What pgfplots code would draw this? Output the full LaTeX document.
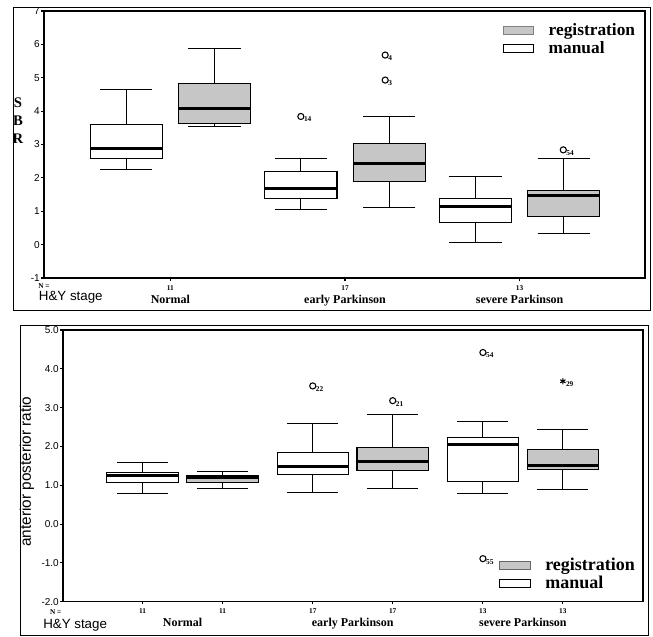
\documentclass[border=0pt]{standalone}
\usepackage{fontspec}
\setmainfont{Liberation Sans}
\newfontfamily\tnr{Liberation Serif}
\usepackage{pgfplots}
\pgfplotsset{compat=1.18}
\usepgfplotslibrary{statistics}

\newcommand{\cat}[1]{{\tnr\bfseries\fontsize{9}{10}\selectfont #1}}
\pgfplotsset{
  common/.style={
    scale only axis,
    clip mode=individual,
    axis line style={black, line width=0.8pt},
    tick align=outside,
    tick pos=left,
    major tick length=2pt,
    tick style={black, line width=0.8pt},
    /pgf/number format/assume math mode=true,
    yticklabel style={font=\fontsize{7.5}{8}\selectfont, inner sep=1pt},
    xticklabel style={font=\tnr\bfseries\fontsize{5.5}{6}\selectfont},
    extra x tick style={major tick length=0pt, xticklabel style={yshift=-9pt}},
    boxplot/draw direction=y,
    boxplot/every median/.style={line width=2.2pt},
    boxplot/every whisker/.style={line width=0.7pt},
    boxplot/every box/.style={line width=0.8pt},
    legend image code/.code={\draw[#1, line width=0.6pt] (0pt,-3pt) rectangle (23pt,3pt); \path (32pt,0pt);},
  },
  man/.style={draw=black, fill=white, solid, forget plot},
  reg/.style={draw=black, fill=gray!45, solid, forget plot},
  outl/.style={only marks, mark=o, mark size=2.3pt, black, mark options={line width=0.8pt},
    nodes near coords, point meta=explicit symbolic,
    nodes near coords style={anchor=west, font=\tnr\bfseries\fontsize{5.5}{6}\selectfont, inner sep=0.5pt, xshift=1.5pt, yshift=-2.3pt}, forget plot},
}

\begin{document}
\begin{tikzpicture}
\path (0pt,0pt) rectangle (489.75pt,-477pt);
\draw[line width=0.5pt] (9.75pt,-5.25pt) rectangle (487.5pt,-232.5pt);
\draw[line width=0.5pt] (15pt,-243.75pt) rectangle (486pt,-476.6pt);

% ---------------- top panel: SBR ----------------
\begin{axis}[common,
  at={(33pt,-208.5pt)}, anchor=south west,
  width=450.75pt, height=200.25pt,
  xmin=0.276, xmax=3.718, ymin=-1, ymax=7,
  ytick={-1,0,1,2,3,4,5,6,7},
  xtick={1,2,3}, xticklabels={11,17,13},
  extra x ticks={1,2,3},
  extra x tick labels={\cat{Normal},\cat{early Parkinson},\cat{severe Parkinson}},
  legend style={draw=none, fill=none, at={(0.995,0.975)}, anchor=north east,
    font=\tnr\bfseries\fontsize{13}{15}\selectfont, cells={anchor=west}, row sep=-1pt},
]
\addlegendimage{draw=black!50, fill=gray!45}
\addlegendentry{registration}
\addlegendimage{draw=black, fill=white}
\addlegendentry{manual}
% Normal
\addplot[man, boxplot prepared={draw position=0.747, lower whisker=2.26, lower quartile=2.58, median=2.87, upper quartile=3.59, upper whisker=4.65, box extend=0.414, whisker extend=0.30}] coordinates {};
\addplot[reg, boxplot prepared={draw position=1.253, lower whisker=3.55, lower quartile=3.64, median=4.09, upper quartile=4.83, upper whisker=5.89, box extend=0.414, whisker extend=0.30}] coordinates {};
% early
\addplot[man, boxplot prepared={draw position=1.747, lower whisker=1.05, lower quartile=1.39, median=1.69, upper quartile=2.19, upper whisker=2.59, box extend=0.414, whisker extend=0.30}] coordinates {};
\addplot[reg, boxplot prepared={draw position=2.253, lower whisker=1.12, lower quartile=1.89, median=2.42, upper quartile=3.04, upper whisker=3.83, box extend=0.414, whisker extend=0.30}] coordinates {};
% severe
\addplot[man, boxplot prepared={draw position=2.747, lower whisker=0.05, lower quartile=0.67, median=1.13, upper quartile=1.37, upper whisker=2.04, box extend=0.414, whisker extend=0.30}] coordinates {};
\addplot[reg, boxplot prepared={draw position=3.253, lower whisker=0.32, lower quartile=0.85, median=1.47, upper quartile=1.62, upper whisker=2.59, box extend=0.414, whisker extend=0.30}] coordinates {};
% outliers
\addplot[outl] table[meta=label] {
x y label
1.747 3.84 14
2.23 5.68 4
2.23 4.93 3
3.25 2.84 54
};
\node[anchor=north, font=\tnr\bfseries\fontsize{5.5}{6}\selectfont, inner sep=0pt] at (rel axis cs:0,0) [yshift=-4pt] {N =};
\node[anchor=west, font=\fontsize{10}{11}\selectfont, inner sep=0pt] at (rel axis cs:0,0) [xshift=-4pt, yshift=-14.3pt] {H\&Y stage};
\node[align=center, font=\tnr\bfseries\fontsize{11}{13.5}\selectfont, inner sep=0pt] at (rel axis cs:0,0.59) [xshift=-19.5pt] {S\\B\\R};
\end{axis}

% ---------------- bottom panel: AP ratio ----------------
\begin{axis}[common,
  at={(47.25pt,-451.3pt)}, anchor=south west,
  width=435pt, height=203.8pt,
  xmin=0.297, xmax=3.706, ymin=-2, ymax=5,
  ytick={-2,-1,0,1,2,3,4,5},
  yticklabel style={/pgf/number format/.cd, fixed, fixed zerofill, precision=1},
  xtick={0.765,1.235,1.765,2.235,2.765,3.235}, xticklabels={11,11,17,17,13,13},
  extra x ticks={1,2,3},
  extra x tick labels={\cat{Normal},\cat{early Parkinson},\cat{severe Parkinson}},
  legend style={draw=none, fill=none, at={(0.998,0.02)}, anchor=south east,
    font=\tnr\bfseries\fontsize{13.5}{15.5}\selectfont, cells={anchor=west}, row sep=-1pt},
]
\addlegendimage{draw=black!60, fill=gray!45}
\addlegendentry{registration}
\addlegendimage{draw=black, fill=white}
\addlegendentry{manual}
% Normal
\addplot[man, boxplot prepared={draw position=0.765, lower whisker=0.79, lower quartile=1.07, median=1.26, upper quartile=1.33, upper whisker=1.58, box extend=0.42, whisker extend=0.30}] coordinates {};
\addplot[reg, boxplot prepared={draw position=1.235, lower whisker=0.93, lower quartile=1.07, median=1.20, upper quartile=1.26, upper whisker=1.36, box extend=0.42, whisker extend=0.30}] coordinates {};
% early
\addplot[man, boxplot prepared={draw position=1.765, lower whisker=0.81, lower quartile=1.27, median=1.48, upper quartile=1.85, upper whisker=2.60, box extend=0.42, whisker extend=0.30}] coordinates {};
\addplot[reg, boxplot prepared={draw position=2.235, lower whisker=0.92, lower quartile=1.37, median=1.61, upper quartile=1.97, upper whisker=2.83, box extend=0.42, whisker extend=0.30}] coordinates {};
% severe
\addplot[man, boxplot prepared={draw position=2.765, lower whisker=0.78, lower quartile=1.09, median=2.06, upper quartile=2.23, upper whisker=2.64, box extend=0.42, whisker extend=0.30}] coordinates {};
\addplot[reg, boxplot prepared={draw position=3.235, lower whisker=0.88, lower quartile=1.40, median=1.50, upper quartile=1.93, upper whisker=2.43, box extend=0.42, whisker extend=0.30}] coordinates {};
% outliers
\addplot[outl] table[meta=label] {
x y label
1.765 3.56 22
2.235 3.18 21
2.765 4.42 54
2.765 -0.89 55
};
\addplot[outl, mark=asterisk] table[meta=label] {
x y label
3.235 3.68 29
};
\node[anchor=east, font=\tnr\bfseries\fontsize{5.5}{6}\selectfont, inner sep=0pt] at (rel axis cs:0,0) [xshift=-1pt, yshift=-7.5pt] {N =};
\node[anchor=west, font=\fontsize{10}{11}\selectfont, inner sep=0pt] at (rel axis cs:0,0) [xshift=-15pt, yshift=-17.5pt] {H\&Y stage};
\node[xshift=-27pt, rotate=90, font=\fontsize{11.5}{12}\selectfont, inner sep=0pt] at (rel axis cs:0,0.479) {anterior posterior ratio};
\end{axis}
\end{tikzpicture}
\end{document}
